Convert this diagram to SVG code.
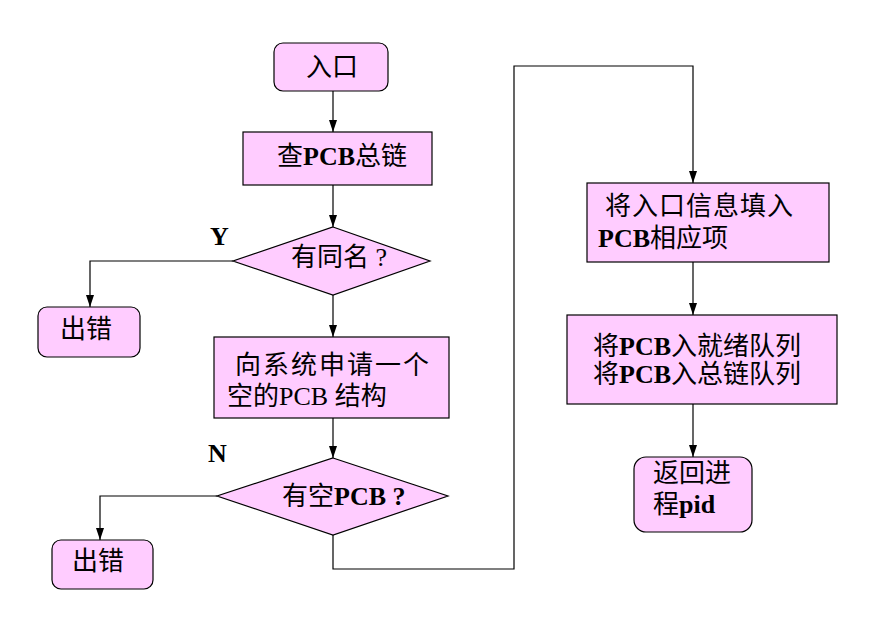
<svg xmlns="http://www.w3.org/2000/svg" width="869" height="634" viewBox="0 0 869 634">
<style>
.n{fill:#FFCCFF;stroke:#000;stroke-width:1.2}
.t{font-family:"Liberation Serif","Noto Sans CJK SC",serif;font-size:26px;fill:#000}
.b{font-weight:bold}
.c{fill:none;stroke:#000;stroke-width:1.2}
</style>
<defs>
<marker id="ar" markerWidth="12" markerHeight="8" refX="12" refY="4" orient="auto" markerUnits="userSpaceOnUse">
<path d="M0,0 L12,4 L0,8 Z" fill="#000"/>
</marker>
</defs>
<rect width="869" height="634" fill="#fff"/>
<g id="connectors">
<path class="c" d="M333,91 V132" marker-end="url(#ar)"/>
<path class="c" d="M333,185 V227" marker-end="url(#ar)"/>
<path class="c" d="M233,261 H90 V307" marker-end="url(#ar)"/>
<path class="c" d="M333,295 V337" marker-end="url(#ar)"/>
<path class="c" d="M333,418 V458" marker-end="url(#ar)"/>
<path class="c" d="M217,496 H100 V540" marker-end="url(#ar)"/>
<path class="c" d="M333,535 V569 H514 V66 H693 V183" marker-end="url(#ar)"/>
<path class="c" d="M693,262 V315" marker-end="url(#ar)"/>
<path class="c" d="M693,404 V457" marker-end="url(#ar)"/>
<text class="t b" x="210" y="245" font-size="23">Y</text>
<text class="t b" x="208" y="462" font-size="23">N</text>
</g>
<g id="entry">
<rect class="n" x="274" y="43" width="114" height="48" rx="9"/>
<text class="t" x="306" y="76">入口</text>
</g>
<g id="check">
<rect class="n" x="243" y="132" width="189" height="53"/>
<text class="t" x="277" y="165">查<tspan class="b">PCB</tspan>总链</text>
</g>
<g id="samename">
<polygon class="n" points="333,227 430,261 333,295 233,261"/>
<text class="t" x="291" y="266" xml:space="preserve">有同名 ?</text>
</g>
<g id="err1">
<rect class="n" x="38" y="307" width="102" height="50" rx="9"/>
<text class="t" x="60" y="338">出错</text>
</g>
<g id="request">
<rect class="n" x="214" y="337" width="235" height="81"/>
<text class="t" x="235" y="374" letter-spacing="2">向系统申请一个</text>
<text class="t" x="227" y="405">空的PCB 结构</text>
</g>
<g id="emptypcb">
<polygon class="n" points="333,458 448,496 333,535 217,496"/>
<text class="t" x="282" y="505" xml:space="preserve">有空<tspan class="b">PCB ?</tspan></text>
</g>
<g id="err2">
<rect class="n" x="52" y="540" width="101" height="49" rx="9"/>
<text class="t" x="72" y="570">出错</text>
</g>
<g id="fill">
<rect class="n" x="587" y="183" width="242" height="79"/>
<text class="t" x="605" y="215" letter-spacing="1">将入口信息填入</text>
<text class="t" x="598" y="247"><tspan class="b">PCB</tspan>相应项</text>
</g>
<g id="queue">
<rect class="n" x="567" y="315" width="270" height="89"/>
<text class="t" x="593" y="355">将<tspan class="b">PCB</tspan>入就绪队列</text>
<text class="t" x="593" y="383">将<tspan class="b">PCB</tspan>入总链队列</text>
</g>
<g id="return">
<rect class="n" x="634" y="457" width="118" height="75" rx="12"/>
<text class="t" x="653" y="482">返回进</text>
<text class="t" x="653" y="513">程<tspan class="b">pid</tspan></text>
</g>
</svg>
